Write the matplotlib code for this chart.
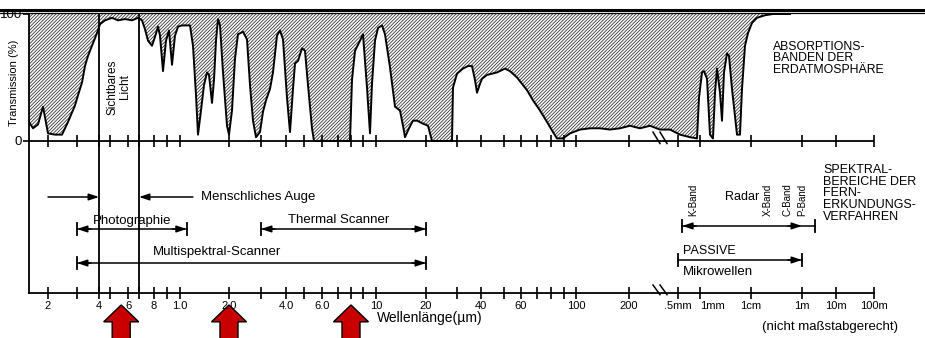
import numpy as np
import matplotlib
matplotlib.use("Agg")
import matplotlib.pyplot as plt
from matplotlib.lines import Line2D
from matplotlib.patches import FancyArrow

plt.rcParams['font.family'] = ['Liberation Sans', 'DejaVu Sans']
plt.rcParams['hatch.linewidth'] = 0.6

# Wellenlängenachse (nicht maßstabgerecht), Werte in µm
tick_wl = [0.2, 0.3, 0.4, 0.5, 0.6, 0.7, 0.8, 0.9, 1.0, 2, 3, 4, 5, 6, 7, 8, 9, 10,
           20, 30, 40, 50, 60, 70, 80, 90, 100, 200, 500, 1e3, 1e4, 1e6, 1e7, 1e8]
tick_labels = ['2', '', '4', '', '6', '', '8', '', '1.0', '2.0', '', '4.0', '', '6.0',
               '', '', '', '10', '20', '', '40', '', '60', '', '', '', '100', '200',
               '.5mm', '1mm', '1cm', '1m', '10m', '100m']
# Lage der Teilstriche auf der Achse (Achse ist nicht maßstabgerecht)
tick_pos = [48, 77, 99, 110, 128, 139, 154, 167, 180, 229, 261, 286, 304, 322, 338,
            351, 363, 376, 426, 457, 481, 504, 521, 537, 551, 564, 576, 629, 678, 700,
            751, 802, 836, 874]

# Transmission der Atmosphäre: Achsenposition / Transmission in %
trans_pos = [29, 33, 38, 43, 48, 55, 62, 68, 75, 78,
             82, 85, 88, 92, 97, 100, 105, 112, 118, 125,
             132, 138, 142, 145, 148, 152, 155, 158, 160, 163,
             166, 169, 172, 175, 178, 182, 190, 193, 196, 198,
             201, 204, 207, 209, 212, 214, 216, 218, 220, 223,
             227, 229, 232, 235, 238, 243, 247, 250, 253, 256,
             260, 263, 266, 270, 273, 277, 280, 283, 287, 290,
             293, 295, 298, 302, 305, 308, 312, 314, 350, 352,
             355, 360, 363, 367, 370, 372, 375, 378, 382, 385,
             390, 395, 400, 403, 405, 409, 413, 417, 422, 428,
             432, 452, 453, 457, 463, 468, 472, 475, 477, 480,
             482, 487, 497, 505, 510, 517, 527, 533, 540, 547,
             553, 557, 563, 570, 580, 590, 600, 610, 620, 630,
             640, 650, 660, 670, 680, 690, 697, 699, 702, 704,
             707, 710, 713, 715, 717, 720, 722, 724, 727, 729,
             732, 737, 740, 742, 745, 748, 752, 757, 765, 773,
             790]
trans_pct = [15, 10, 13, 27, 6, 5, 5, 15, 28, 36,
             46, 59, 67, 75, 85, 92, 95, 97, 95, 96,
             95, 97, 95, 88, 79, 75, 82, 90, 83, 55,
             79, 87, 60, 83, 90, 91, 91, 75, 36, 5,
             24, 44, 54, 52, 30, 48, 79, 96, 91, 54,
             12, 5, 24, 65, 84, 86, 80, 44, 16, 3,
             7, 23, 32, 41, 54, 83, 87, 80, 34, 7,
             41, 61, 63, 73, 71, 44, 10, 0, 0, 48,
             71, 79, 84, 42, 6, 45, 79, 89, 91, 84,
             58, 27, 24, 12, 3, 10, 16, 16, 14, 12,
             0, 0, 42, 53, 57, 59, 59, 48, 38, 45,
             49, 52, 54, 57, 55, 50, 40, 32, 24, 15,
             7, 2, 2, 6, 9, 10, 10, 9, 10, 12,
             10, 12, 9, 9, 5, 3, 2, 34, 54, 55,
             49, 5, 2, 38, 57, 38, 16, 54, 69, 67,
             41, 5, 5, 41, 75, 85, 93, 97, 99, 100,
             100]

# Spektralbereiche der Fernerkundungsverfahren (µm)
sichtbar = (0.4, 0.7)
auge_pfeile = (0.2, 1.2)
photographie = (0.3, 1.1)
thermal = (3, 20)
multispektral = (0.3, 20)
passive_mw = (500, 1e6)
radar = (570, 2.4e6)
radar_spitze = 1e6
radar_baender = ['K-Band', 'X-Band', 'C-Band', 'P-Band']
radar_band_wl = [800, 4.6e4, 2.6e5, 1.05e6]
markiert_wl = [0.56, 2.0, 8.0]


def pos(wl):
    return np.interp(np.log10(wl), np.log10(tick_wl), tick_pos)


W, H = 925, 338
fig = plt.figure(figsize=(W / 100, H / 100), dpi=100)
ax = fig.add_axes([29 / W, (H - 293) / H, 845 / W, 279 / H])
ax.set_xlim(29, 874)
ax.set_ylim(-119.7, 100)

# Doppellinie oben
fig.add_artist(Line2D([0, 1], [1 - 9.5 / H] * 2, lw=2.2, color='black'))
fig.add_artist(Line2D([0, 1], [1 - 12.5 / H] * 2, lw=0.9, color='black'))

for s in ['top', 'right']:
    ax.spines[s].set_visible(False)
for s in ['left', 'bottom']:
    ax.spines[s].set_linewidth(1.3)

ax.set_xticks(tick_pos, tick_labels)
ax.tick_params(axis='x', direction='inout', length=9, width=1.2, labelsize=8, pad=1)
ax.get_xticklabels()[tick_labels.index('1mm')].set_horizontalalignment('left')
ax.set_yticks([0, 100], ['0', '100'])
ax.tick_params(axis='y', direction='out', length=4, width=1.2, labelsize=9.5, pad=1)

# Absorptionsbanden (schraffiert) und Transmissionskurve
ax.fill_between(trans_pos, trans_pct, 100, facecolor='white', edgecolor='#333333',
                hatch='//////////', lw=0)
ax.plot(trans_pos, trans_pct, color='black', lw=1.4)

# Nulllinie mit Teilstrichen
ax.plot([29, 874], [0, 0], color='black', lw=1.3)
ax.plot(tick_pos, np.zeros(len(tick_pos)), ls='none', marker='|', ms=8, mew=1.2,
        color='black')

# Sichtbares Licht
for wl in sichtbar:
    ax.axvline(pos(wl), color='black', lw=1.3)
ax.text(np.mean([pos(w) for w in sichtbar]), 42.5, 'Sichtbares\nLicht', rotation=90,
        ha='center', va='center', fontsize=8.5, linespacing=1.0)

ax.text(14, 45.7, 'Transmission (%)', rotation=90, ha='center', va='center',
        fontsize=8, clip_on=False)
ax.text(773, 79, 'ABSORPTIONS-\nBANDEN DER\nERDATMOSPHÄRE', ha='left', va='top',
        fontsize=8.8, linespacing=0.95)

# Bruchstellen der Achse
for x0 in (653, 660):
    ax.plot([x0, x0 + 7], [7, -2], color='black', lw=1.1, clip_on=False)
    ax.plot([x0, x0 + 7], [-113.4, -121], color='black', lw=1.1, clip_on=False)

kopf_stil = dict(arrowstyle='-|>,head_length=0.6,head_width=0.2', color='black',
                 lw=1.1, shrinkA=0, shrinkB=0, mutation_scale=10)


def kopf(x, y, richtung):
    ax.annotate('', xy=(x, y), xytext=(x - richtung * 14, y), arrowprops=kopf_stil,
                annotation_clip=False)


def strecke(bereich, y, links=True, rechts=True, spitze=None):
    x0, x1 = pos(bereich[0]), pos(bereich[1])
    ax.plot([x0, x1], [y, y], color='black', lw=1.1)
    for x in (x0, x1):
        ax.plot([x, x], [y - 5, y + 5], color='black', lw=1.3)
    if links:
        kopf(x0, y, -1)
    if rechts:
        kopf(pos(spitze) if spitze else x1, y, 1)


# Menschliches Auge
y_auge = -44.1
ax.annotate('', xy=(pos(sichtbar[0]), y_auge), xytext=(pos(auge_pfeile[0]), y_auge),
            arrowprops=kopf_stil)
ax.annotate('', xy=(pos(sichtbar[1]), y_auge), xytext=(pos(auge_pfeile[1]), y_auge),
            arrowprops=kopf_stil)
ax.text(201, y_auge, 'Menschliches Auge', ha='left', va='center', fontsize=9.5)

strecke(photographie, -69.3)
ax.text(np.mean([pos(w) for w in photographie]), -63, 'Photographie', ha='center',
        va='center', fontsize=9.5)
strecke(thermal, -69.3)
ax.text(np.mean([pos(w) for w in thermal]) - 5, -62.2, 'Thermal Scanner', ha='center',
        va='center', fontsize=9.5)
strecke(multispektral, -96.1)
ax.text(217, -87.4, 'Multispektral-Scanner', ha='center', va='center', fontsize=9.5)

strecke(radar, -66.9, spitze=radar_spitze)
for name, wl in zip(radar_baender, radar_band_wl):
    ax.text(pos(wl), -59.1, name, rotation=90, ha='center', va='bottom', fontsize=7)
ax.text(725, -44.1, 'Radar', ha='left', va='center', fontsize=9)

strecke(passive_mw, -93.7, links=False)
ax.text(683, -86.6, 'PASSIVE', ha='left', va='center', fontsize=9)
ax.text(683, -102.8, 'Mikrowellen', ha='left', va='center', fontsize=9.5)

ax.text(823, -18, 'SPEKTRAL-\nBEREICHE DER\nFERN-\nERKUNDUNGS-\nVERFAHREN', ha='left',
        va='top', fontsize=9, linespacing=0.98, clip_on=False)

ax.text(377, -139.4, 'Wellenlänge(µm)', ha='left', va='center', fontsize=10,
        clip_on=False)
ax.text(762, -146.5, '(nicht maßstabgerecht)', ha='left', va='center', fontsize=9.5,
        clip_on=False)

# rote Markierungspfeile
for wl in markiert_wl:
    ax.add_patch(FancyArrow(pos(wl), -156, 0, 26.9, width=18, head_width=35,
                            head_length=13.3, length_includes_head=True,
                            fc='#c80000', ec='black', lw=1, clip_on=False))

fig.savefig('out.png', dpi=100)
